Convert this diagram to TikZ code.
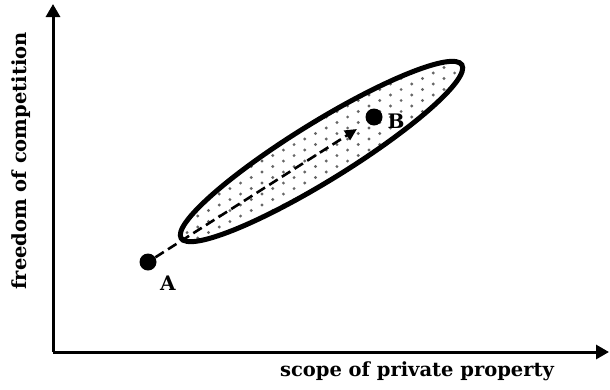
\documentclass[tikz,border=0pt]{standalone}
\usepackage{fontspec}
\setmainfont{DejaVu Serif}
\usetikzlibrary{arrows.meta}
\begin{document}
\begin{tikzpicture}[x=1pt,y=-1pt,
  axis/.style={line width=3pt,-{Triangle[length=13pt,width=14pt]}},
  pt/.style={circle,fill=black,inner sep=0pt,minimum size=17pt},
  lbl/.style={font=\bfseries\fontsize{20}{22}\selectfont,inner sep=0pt},
  axlbl/.style={font=\bfseries\fontsize{19.5}{22}\selectfont,inner sep=0pt}]
\useasboundingbox (0,0) rectangle (610,389);
\coordinate (O) at (53,352);
\coordinate (Ytop) at (53,4);
\coordinate (Xend) at (609,352);
\draw[axis] (O) -- (Ytop);
\draw[axis] (O) -- (Xend);
\node[axlbl,rotate=90] (ylab) at (21,161) {freedom of competition};
\node[axlbl] (xlab) at (417,371) {scope of private property};
% ellipse
\coordinate (C) at (321.5,151.5);
\begin{scope}
  \clip[rotate around={31.7:(C)}] (C) ellipse [x radius=165pt, y radius=29pt];
  \fill[white] (150,40) rectangle (480,260);
  \foreach \c in {0,...,30}{
    \foreach \r in {0,...,21}{
      \pgfmathsetmacro{\xx}{155+\c*10.7}
      \pgfmathsetmacro{\yy}{40+\r*11+mod(\c,2)*5.5}
      \fill[black!60] (\xx,\yy) circle (1.6pt);
    }
  }
\end{scope}
\draw[line width=5pt,rotate around={31.7:(C)}] (C) ellipse [x radius=165pt, y radius=29pt];
% points
\node[pt] (A) at (148,262) {};
\node[pt] (B) at (374,117) {};
\node[lbl] (Alab) at (168,283) {A};
\node[lbl] (Blab) at (396,121) {B};
\coordinate (Aend) at (357,129);
\draw[line width=2.6pt,dash pattern=on 10pt off 5pt,-{Triangle[length=12pt,width=11pt]}] (A) -- (Aend);
\end{tikzpicture}
\end{document}
